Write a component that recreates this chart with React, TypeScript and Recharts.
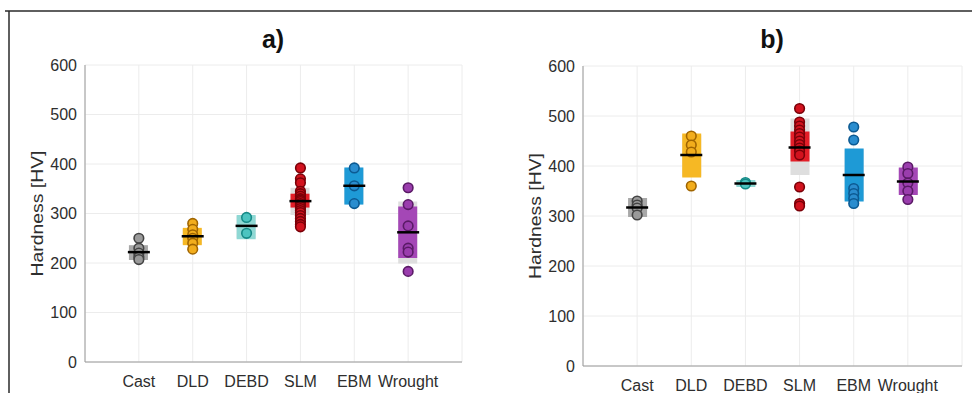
import React from 'react'
import { ComposedChart, Bar, Scatter, XAxis, YAxis, CartesianGrid, Cell, Label } from 'recharts'

const CATEGORIES = ['Cast', 'DLD', 'DEBD', 'SLM', 'EBM', 'Wrought']
const Y_TICKS = [0, 100, 200, 300, 400, 500, 600]

// colours per category: box, point fill, point edge
const BOX_COLORS = ['#a8a8a8', '#f6b824', '#8fd8d4', '#e31e28', '#1e9ad6', '#a447b6']
const DOT_FILL = ['#9a9a9a', '#f2ad1c', '#4cc4c0', '#d2121e', '#2a8dcf', '#9a3dad']
const DOT_EDGE = ['#444444', '#a06500', '#168a87', '#7a0008', '#0c5a92', '#5a1a66']

// a) measured hardness values
const A_POINTS = [
  [250, 230, 220, 212, 207],
  [280, 268, 257, 250, 240, 228],
  [292, 260],
  [392, 370, 362, 345, 340, 335, 330, 327, 324, 320, 317, 314, 310, 306, 302, 296, 290, 284, 278, 273],
  [392, 356, 320],
  [352, 318, 275, 230, 222, 183],
]
const A_MEAN = [222, 254, 275, 325, 356, 262]
const A_CI_LO = [206, 236, 248, 312, 318, 210]
const A_CI_HI = [236, 271, 297, 340, 393, 314]
const A_SD_LO = [208, 238, 250, 297, 320, 199]
const A_SD_HI = [234, 268, 295, 352, 391, 324]

// b) measured hardness values
const B_POINTS = [
  [330, 322, 316, 302],
  [460, 442, 428, 360],
  [367, 364],
  [515, 488, 480, 472, 465, 458, 450, 443, 436, 430, 422, 358, 325, 320],
  [478, 452, 355, 345, 335, 325],
  [398, 385, 366, 350, 333],
]
const B_MEAN = [317, 422, 365, 437, 382, 369]
const B_CI_LO = [298, 377, 358, 409, 329, 342]
const B_CI_HI = [336, 465, 372, 469, 435, 397]
const B_SD_LO = [303, 380, 360, 382, 331, 345]
const B_SD_HI = [331, 462, 370, 495, 433, 395]

const FONT = "'Liberation Sans', Arial, Helvetica, sans-serif"
const AXIS_STROKE = '#9a9a9a'

interface PanelProps {
  points: number[][]
  mean: number[]
  ciLo: number[]
  ciHi: number[]
  sdLo: number[]
  sdHi: number[]
  width: number
  top: number
  right: number
  yAxisWidth: number
  xAxisHeight: number
  labelX: number
}

function Panel({ points, mean, ciLo, ciHi, sdLo, sdHi, width, top, right, yAxisWidth, xAxisHeight, labelX }: PanelProps) {
  const boxes = CATEGORIES.map((c, i) => ({ x: i + 1, sd: [sdLo[i], sdHi[i]], ci: [ciLo[i], ciHi[i]] }))
  const dots = points.flatMap((vals, i) => vals.map(v => ({ x: i + 1, v, i })))
  const means = mean.map((v, i) => ({ x: i + 1, v }))

  return (
    <ComposedChart
      width={width}
      height={393}
      data={boxes}
      margin={{ top, right, bottom: 0, left: 0 }}
      barGap={-19}
    >
      <CartesianGrid stroke="#ececec" />
      <XAxis
        dataKey="x"
        type="number"
        domain={[0, 7]}
        ticks={[1, 2, 3, 4, 5, 6]}
        interval={0}
        tickFormatter={(v) => CATEGORIES[v - 1]}
        height={xAxisHeight}
        tickLine={false}
        tickMargin={8}
        axisLine={{ stroke: AXIS_STROKE }}
        tick={{ fill: '#2e2e2e', fontSize: 16, fontFamily: FONT }}
      />
      <XAxis
        xAxisId="top"
        dataKey="x"
        orientation="top"
        type="number"
        domain={[0, 7]}
        ticks={[1, 2, 3, 4, 5, 6]}
        height={0}
        tick={false}
        tickLine={false}
        axisLine={{ stroke: AXIS_STROKE }}
      />
      <YAxis
        dataKey="v"
        type="number"
        domain={[0, 600]}
        ticks={Y_TICKS}
        interval={0}
        width={yAxisWidth}
        tickLine={false}
        axisLine={{ stroke: AXIS_STROKE }}
        tick={{ fill: '#2e2e2e', fontSize: 16, fontFamily: FONT }}
      >
        <Label
          content={({ viewBox }: any) => {
            const cy = viewBox.y + viewBox.height / 2
            return (
              <text
                x={labelX}
                y={cy}
                transform={`rotate(-90 ${labelX} ${cy})`}
                textAnchor="middle"
                dominantBaseline="central"
                fontSize={17}
                fontFamily={FONT}
                fill="#2e2e2e"
                textLength={126}
                lengthAdjust="spacingAndGlyphs"
              >
                Hardness [HV]
              </text>
            )
          }}
        />
      </YAxis>
      <YAxis
        yAxisId="right"
        orientation="right"
        type="number"
        domain={[0, 600]}
        ticks={Y_TICKS}
        width={0}
        tick={false}
        tickLine={false}
        axisLine={{ stroke: AXIS_STROKE }}
      />

      <Bar dataKey="sd" barSize={19} fill="#dedede" isAnimationActive={false} />
      <Bar dataKey="ci" barSize={19} isAnimationActive={false}>
        {boxes.map((b, i) => <Cell key={i} fill={BOX_COLORS[i]} />)}
      </Bar>

      <Scatter
        data={dots}
        dataKey="v"
        isAnimationActive={false}
        shape={(p: any) => (
          <circle
            cx={p.cx}
            cy={p.cy}
            r={4.8}
            fill={DOT_FILL[p.payload.i]}
            stroke={DOT_EDGE[p.payload.i]}
            strokeWidth={1.6}
          />
        )}
      />
      <Scatter
        data={means}
        dataKey="v"
        isAnimationActive={false}
        shape={(p: any) => (
          <line x1={p.cx - 11} x2={p.cx + 11} y1={p.cy} y2={p.cy} stroke="#000" strokeWidth={2.5} />
        )}
      />
    </ComposedChart>
  )
}

export default function App() {
  return (
    <div style={{ position: 'absolute', left: 0, top: 0, width: 972, height: 393, background: '#fff', overflow: 'hidden' }}>
      <svg width={972} height={393} style={{ position: 'absolute', left: 0, top: 0 }}>
        <line x1={5} x2={972} y1={11} y2={11} stroke="#2a2a2a" strokeWidth={1.5} />
        <line x1={9} x2={9} y1={11} y2={393} stroke="#2a2a2a" strokeWidth={1.5} />
        <text x={273} y={48} textAnchor="middle" fontSize={25} fontWeight="bold" fontFamily={FONT} fill="#111">a)</text>
        <text x={772} y={48} textAnchor="middle" fontSize={25} fontWeight="bold" fontFamily={FONT} fill="#111">b)</text>
      </svg>
      <div style={{ position: 'absolute', left: 0, top: 0 }}>
        <Panel
          points={A_POINTS} mean={A_MEAN} ciLo={A_CI_LO} ciHi={A_CI_HI} sdLo={A_SD_LO} sdHi={A_SD_HI}
          width={480} top={65} right={18} yAxisWidth={85} xAxisHeight={31} labelX={37}
        />
      </div>
      <div style={{ position: 'absolute', left: 490, top: 0 }}>
        <Panel
          points={B_POINTS} mean={B_MEAN} ciLo={B_CI_LO} ciHi={B_CI_HI} sdLo={B_SD_LO} sdHi={B_SD_HI}
          width={482} top={66} right={10} yAxisWidth={93} xAxisHeight={27} labelX={45}
        />
      </div>
    </div>
  )
}
